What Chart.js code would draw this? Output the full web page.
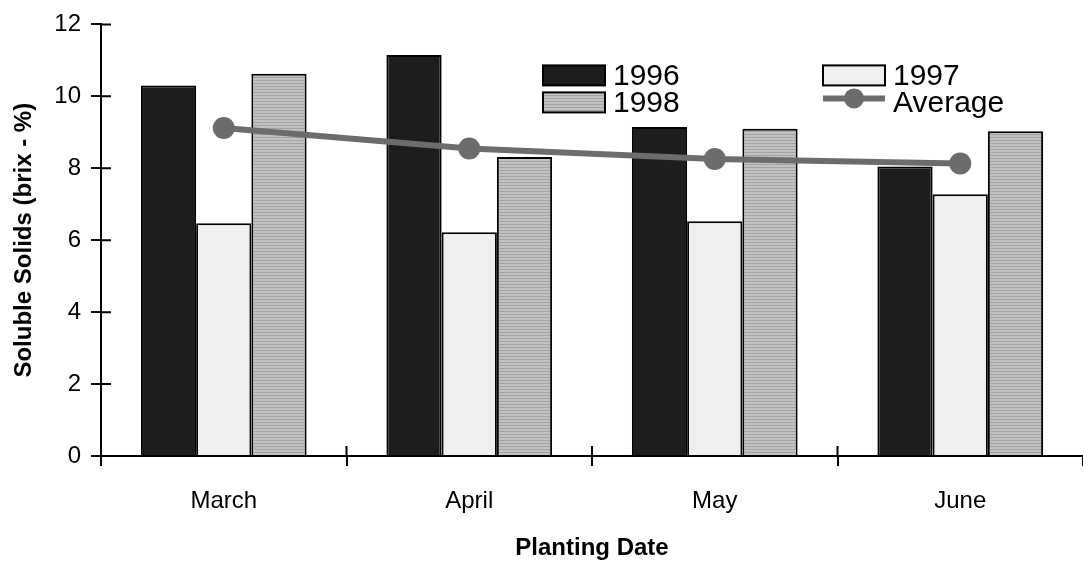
<!DOCTYPE html>
<html>
<head>
<meta charset="utf-8">
<script src="https://cdn.jsdelivr.net/npm/chart.js@4.4.0/dist/chart.umd.min.js"></script>
<style>
  html, body { margin: 0; padding: 0; background: #fff; overflow: hidden; }
  #wrap { width: 1083px; height: 567px; position: relative; }
  canvas { display: block; }
</style>
</head>
<body>
<div id="wrap"><canvas id="brixChart"></canvas></div>
<script>
const months = ['March', 'April', 'May', 'June'];
const yr1996 = [10.3, 11.15, 9.15, 8.05];
const yr1997 = [6.47, 6.22, 6.53, 7.28];
const yr1998 = [10.63, 8.31, 9.1, 9.03];
const average = [9.12, 8.55, 8.26, 8.13];
const yTicks = [0, 2, 4, 6, 8, 10, 12];

const FONT = '"Liberation Sans", Arial, sans-serif';

// grey fill with fine horizontal lines, like the scanned 1998 bars
function hatch() {
  const c = document.createElement('canvas');
  c.width = 4; c.height = 3;
  const g = c.getContext('2d');
  g.fillStyle = '#c2c2c2';
  g.fillRect(0, 0, 4, 3);
  g.fillStyle = '#a3a3a3';
  g.fillRect(0, 2, 4, 1);
  return g.createPattern(c, 'repeat');
}
const hatch98 = hatch();

// tick marks that also poke into the plot area
const innerTicks = {
  id: 'innerTicks',
  afterDraw(chart) {
    const ctx = chart.ctx, a = chart.chartArea;
    const x = chart.scales.x, y = chart.scales.y;
    ctx.save();
    ctx.strokeStyle = '#000';
    ctx.lineWidth = 2;
    ctx.beginPath();
    yTicks.forEach(v => {
      const py = y.getPixelForValue(v);
      ctx.moveTo(a.left, py);
      ctx.lineTo(a.left + 10, py);
    });
    for (let i = 1; i < months.length; i++) {
      const px = (x.getPixelForValue(i - 1) + x.getPixelForValue(i)) / 2;
      ctx.moveTo(px, a.bottom);
      ctx.lineTo(px, a.bottom - 10);
    }
    ctx.stroke();
    ctx.restore();
  }
};

// 2x2 legend inside the plot
const gridLegend = {
  id: 'gridLegend',
  afterDraw(chart) {
    const ctx = chart.ctx, a = chart.chartArea;
    const ds = chart.data.datasets;
    const order = ['1996', '1997', '1998', 'Average'];
    const cols = [a.left + 442, a.left + 722];
    const rows = [a.top + 51, a.top + 78];
    ctx.save();
    ctx.font = '30px ' + FONT;
    ctx.textBaseline = 'middle';
    ctx.fillStyle = '#000';
    order.forEach((lbl, i) => {
      const d = ds.find(s => s.label === lbl);
      const bx = cols[i % 2], cy = rows[Math.floor(i / 2)];
      if (d.type === 'line') {
        ctx.strokeStyle = d.borderColor;
        ctx.lineWidth = 6;
        ctx.beginPath();
        ctx.moveTo(bx, cy - 4);
        ctx.lineTo(bx + 62, cy - 4);
        ctx.stroke();
        ctx.fillStyle = d.pointBackgroundColor;
        ctx.beginPath();
        ctx.arc(bx + 31, cy - 4, 10, 0, Math.PI * 2);
        ctx.fill();
      } else {
        ctx.fillStyle = d.backgroundColor;
        ctx.fillRect(bx, cy - 10, 62, 20);
        ctx.strokeStyle = '#000';
        ctx.lineWidth = 2;
        ctx.strokeRect(bx, cy - 10, 62, 20);
      }
      ctx.fillStyle = '#000';
      ctx.fillText(lbl, bx + 70, cy + 1);
    });
    ctx.restore();
  }
};

new Chart(document.getElementById('brixChart').getContext('2d'), {
  data: {
    labels: months,
    datasets: [
      {
        type: 'line', label: 'Average', data: average, order: 0,
        borderColor: '#6c6c6c', borderWidth: 6,
        pointBackgroundColor: '#6c6c6c', pointBorderWidth: 0, pointRadius: 11,
        tension: 0,
      },
      {
        type: 'bar', label: '1996', data: yr1996, order: 1,
        backgroundColor: '#1d1d1d', borderColor: '#000', borderWidth: 2,
      },
      {
        type: 'bar', label: '1997', data: yr1997, order: 1,
        backgroundColor: '#efefef', borderColor: '#000', borderWidth: 2,
      },
      {
        type: 'bar', label: '1998', data: yr1998, order: 1,
        backgroundColor: hatch98, borderColor: '#000', borderWidth: 2,
      },
    ],
  },
  options: {
    responsive: true,
    maintainAspectRatio: false,
    animation: false,
    datasets: {
      bar: { categoryPercentage: 0.675, barPercentage: 1.0 },
    },
    layout: { autoPadding: false, padding: { top: 12, right: 0, bottom: 0, left: 0 } },
    plugins: {
      legend: { display: false },
      tooltip: { enabled: false },
    },
    scales: {
      x: {
        offset: true,
        border: { color: '#000', width: 2 },
        grid: { offset: true, drawOnChartArea: false, color: '#000', lineWidth: 2, tickLength: 10 },
        ticks: { color: '#000', font: { family: FONT, size: 24 }, padding: 21 },
        title: {
          display: true, text: 'Planting Date', color: '#000',
          font: { family: FONT, size: 24, weight: 'bold' }, padding: { top: 16 },
        },
        afterFit: s => { s.height = 111; s.paddingLeft = 0; s.paddingRight = 0; },
      },
      y: {
        min: 0, max: 12,
        afterBuildTicks: s => { s.ticks = yTicks.map(v => ({ value: v })); },
        border: { color: '#000', width: 2 },
        grid: { drawOnChartArea: false, color: '#000', lineWidth: 2, tickLength: 10 },
        ticks: { color: '#000', font: { family: FONT, size: 24 }, padding: 10 },
        title: {
          display: true, text: 'Soluble Solids (brix - %)', color: '#000',
          font: { family: FONT, size: 24, weight: 'bold' }, padding: { top: 10, bottom: 4 },
        },
        afterFit: s => { s.width = 101; },
      },
    },
  },
  plugins: [innerTicks, gridLegend],
});
</script>
</body>
</html>
